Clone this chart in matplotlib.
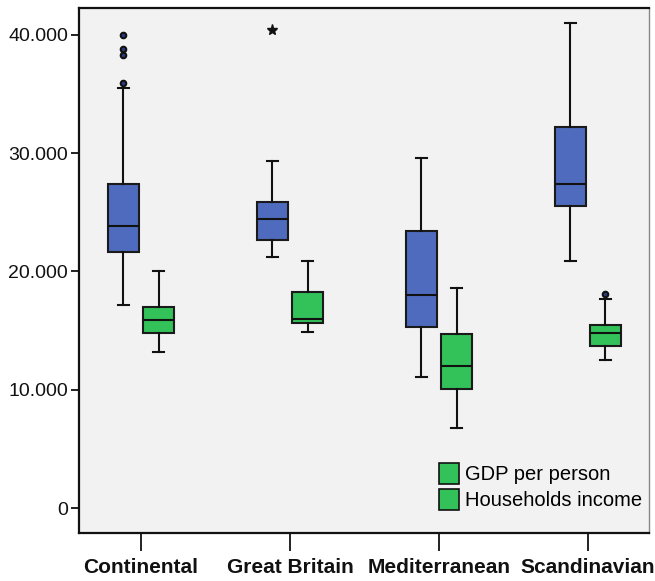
import matplotlib
matplotlib.use("Agg")
import matplotlib.pyplot as plt
from matplotlib.patches import Patch

regions = ["Continental", "Great Britain", "Mediterranean", "Scandinavian"]
series_names = ["GDP per person", "Households income"]

# five-number summaries: low whisker, Q1, median, Q3, high whisker
gdp_low = [17160, 21190, 11100, 20900]
gdp_q1 = [21640, 22630, 15270, 25530]
gdp_med = [23840, 24400, 17980, 27360]
gdp_q3 = [27360, 25870, 23410, 32230]
gdp_high = [35530, 29360, 29560, 41030]
gdp_outliers = [[35900, 38260, 38800, 40000], [], [], []]
gdp_extremes = [[], [40400], [], []]

inc_low = [13210, 14850, 6740, 12510]
inc_q1 = [14820, 15640, 10060, 13720]
inc_med = [15920, 16010, 12030, 14790]
inc_q3 = [17020, 18230, 14680, 15490]
inc_high = [20060, 20910, 18620, 17690]
inc_outliers = [[], [], [], [18090]]
inc_extremes = [[], [], [], []]

yticks = [0, 10000, 20000, 30000, 40000]
ytick_labels = ["0", "10.000", "20.000", "30.000", "40.000"]

blue = "#4e6bbd"
green = "#33c15a"

fig = plt.figure(figsize=(6.55, 5.81), dpi=100)
ax = fig.add_axes([79/655, 1-533/581, 570/655, 525/581])
ax.set_facecolor("#f2f2f2")

def stats(low, q1, med, q3, high):
    return [dict(whislo=low[i], q1=q1[i], med=med[i], q3=q3[i], whishi=high[i], fliers=[])
            for i in range(len(low))]

off = 0.118
w = 0.205
for low, q1, med, q3, high, outl, ext, color, sgn in [
    (gdp_low, gdp_q1, gdp_med, gdp_q3, gdp_high, gdp_outliers, gdp_extremes, blue, -1),
    (inc_low, inc_q1, inc_med, inc_q3, inc_high, inc_outliers, inc_extremes, green, 1)]:
    pos = [i + sgn*off for i in range(len(regions))]
    ax.bxp(stats(low, q1, med, q3, high), positions=pos, widths=w,
           patch_artist=True, showfliers=False, capwidths=0.075,
           boxprops=dict(facecolor=color, edgecolor="#1a1a1a", linewidth=1.5),
           medianprops=dict(color="#111111", linewidth=1.5),
           whiskerprops=dict(color="#111111", linewidth=1.5),
           capprops=dict(color="#111111", linewidth=1.5))
    for i in range(len(regions)):
        if outl[i]:
            ax.plot([pos[i]]*len(outl[i]), outl[i], linestyle="none", marker="o",
                    markersize=4, markerfacecolor="#2a3a80", markeredgecolor="#111111",
                    markeredgewidth=1.5, zorder=5)
        if ext[i]:
            ax.plot([pos[i]]*len(ext[i]), ext[i], linestyle="none", marker="*",
                    markersize=8, color="#111111", zorder=5)

ax.set_xlim(-0.416, 3.41)
ax.set_ylim(-2113, 42265)
ax.set_xticks(range(len(regions)))
ax.set_xticklabels(regions, fontweight="bold", fontsize=15,
                   family=["Liberation Sans", "DejaVu Sans"])
ax.set_yticks(yticks)
ax.set_yticklabels(ytick_labels, fontsize=14, family=["Liberation Sans", "DejaVu Sans"])
ax.tick_params(axis="x", length=13, width=1.3, pad=5, colors="#111111")
ax.tick_params(axis="y", length=6, width=1.3, pad=2, colors="#111111")
for s in ["left", "bottom", "top"]:
    ax.spines[s].set_linewidth(1.6)
    ax.spines[s].set_color("#111111")
ax.spines["right"].set_linewidth(1.0)
ax.spines["right"].set_color("#888888")

handles = [Patch(facecolor=green, edgecolor="#111111", linewidth=1.2) for _ in series_names]
leg = ax.legend(handles, series_names, loc="lower right", frameon=False,
                bbox_to_anchor=(1.0, 0.03),
                prop={"family": ["Liberation Sans", "DejaVu Sans"], "size": 14.5},
                handlelength=1.0, handleheight=1.2, handletextpad=0.3,
                labelspacing=0.25, borderaxespad=0.05, borderpad=0.3)

fig.savefig("out.png", dpi=100, facecolor="white")
